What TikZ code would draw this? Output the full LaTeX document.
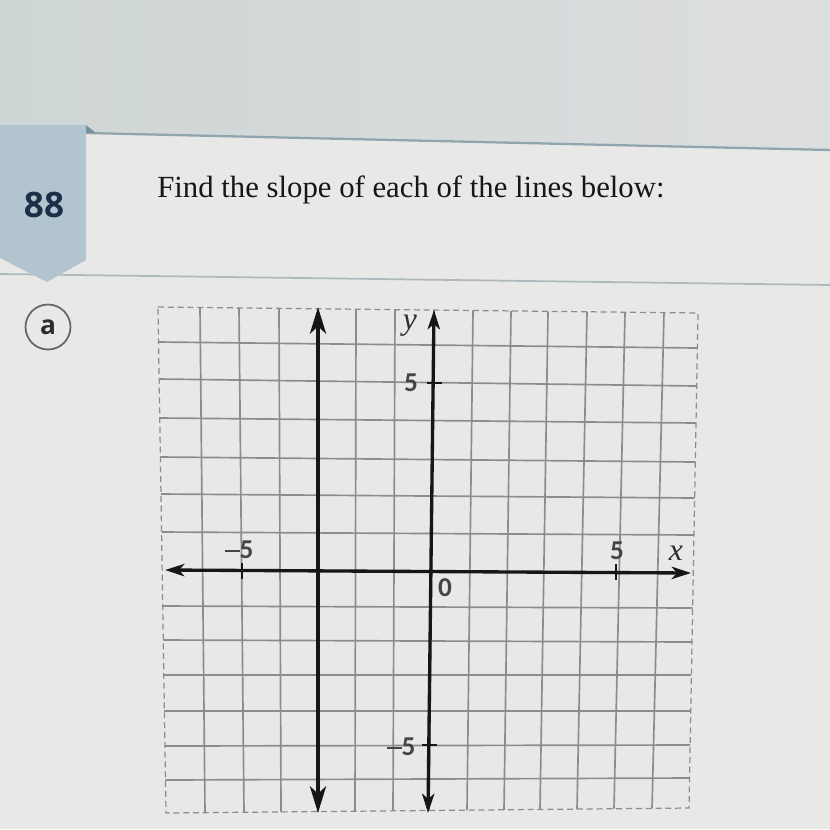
\documentclass[tikz,border=0pt]{standalone}
\usepackage{fontspec}
\setmainfont{Liberation Serif}
\newfontfamily\numfont{Carlito}
\newfontfamily\tabfont{Open Sans}
\usetikzlibrary{arrows.meta}
\definecolor{cardbg}{RGB}{232,233,231}
\definecolor{topL}{RGB}{206,214,213}
\definecolor{topR}{RGB}{221,222,224}
\definecolor{tabblue}{RGB}{178,197,207}
\definecolor{folddark}{RGB}{120,145,160}
\definecolor{sepcol}{RGB}{145,165,175}
\definecolor{sepcol2}{RGB}{175,185,188}
\definecolor{navy}{RGB}{25,48,72}
\definecolor{gridcol}{RGB}{140,140,140}
\definecolor{inkcol}{RGB}{22,22,22}
\begin{document}
\begin{tikzpicture}[x=0.02cm,y=-0.02cm,
  gridline/.style={draw=gridcol,line width=0.95pt},
  frameline/.style={draw=gridcol,line width=0.7pt,dash pattern=on 3.4pt off 2.2pt},
  heavyline/.style={draw=inkcol,line width=2.8pt,{Stealth[length=15pt,width=9pt,inset=4pt]}-{Stealth[length=15pt,width=9pt,inset=4pt]}},
  axisline/.style={draw=inkcol,line width=1.9pt,{Stealth[length=11pt,width=7pt,inset=3pt]}-{Stealth[length=11pt,width=7pt,inset=3pt]}},
  tickline/.style={draw=inkcol,line width=1.2pt},
  numlabel/.style={font=\numfont\bfseries\fontsize{15.5}{16}\selectfont,text=inkcol!80,inner sep=0pt},
  varlabel/.style={font=\itshape\fontsize{18}{19}\selectfont,text=inkcol!90,inner sep=0pt}]
\useasboundingbox (0,0) rectangle (830,829);
% backgrounds
\fill[cardbg] (0,0) rectangle (830,829);
\shade[left color=topL,right color=topR] (0,0) -- (830,0) -- (830,150) -- (86,133) -- (86,125) -- (0,125) -- cycle;
\draw[sepcol,line width=1.3pt] (86,133) -- (830,150);
\draw[sepcol2,line width=1pt] (0,274) -- (830,285);
% tab
\fill[tabblue] (0,125) -- (86,125) -- (86,260) -- (47,282) -- (0,258) -- cycle;
\fill[folddark] (86,125) -- (96,133) -- (86,133) -- cycle;
\node[font=\tabfont\bfseries\fontsize{20}{22}\selectfont,text=navy,inner sep=0pt] (num) at (44,205) {88};
\node[circle,draw=black!60,line width=1pt,minimum size=0.9cm,inner sep=0pt,
  font=\tabfont\bfseries\fontsize{15}{16}\selectfont,text=inkcol!90] (parta) at (48,327) {a};
% title
\node[anchor=base west,inner sep=0pt,font=\fontsize{17.5}{20}\selectfont,text=inkcol] (title) at (157,197) {Find the slope of each of the lines below:};
% grid: vertical lines (top x / bottom x)
\foreach \xt/\xb in {200/205,239/244,279/281,318/318,356/355,395/393,434/429,473/467,511/504,548/540,587/577,625/614,664/652}{
  \pgfmathsetmacro{\yt}{307+0.0111*(\xt-158)}
  \pgfmathsetmacro{\yb}{813-0.00956*(\xb-166)}
  \draw[gridline] (\xt,\yt) -- (\xb,\yb);
}
% grid: horizontal lines (left y / right y)
\foreach \yl/\yr in {342/348,379/386,418/423,457/462,494/498,532/535,606/608,640/642,675/675,711/711,746/745,780/778}{
  \pgfmathsetmacro{\xl}{158+0.0158*(\yl-307)}
  \pgfmathsetmacro{\xr}{698-0.0182*(\yr-313)}
  \draw[gridline] (\xl,\yl) -- (\xr,\yr);
}
% dashed frame
\coordinate (fTL) at (158,307);
\coordinate (fTR) at (698,313);
\coordinate (fBR) at (689,808);
\coordinate (fBL) at (166,813);
\draw[frameline] (fTL) -- (fTR) -- (fBR) -- (fBL) -- cycle;
% axes
\coordinate (xL) at (165,570);
\coordinate (xR) at (691,573);
\coordinate (yT) at (434,310);
\coordinate (yB) at (428,813);
\draw[axisline] (xL) -- (xR);
\draw[axisline] (yB) -- (yT);
% the vertical line x = -3
\coordinate (vT) at (318,307);
\coordinate (vB) at (318,813);
\draw[heavyline] (vB) -- (vT);
% ticks
\coordinate (tx1a) at (242,563); \coordinate (tx1b) at (242,579);
\coordinate (tx2a) at (616,564); \coordinate (tx2b) at (616,580);
\coordinate (ty1a) at (427,383); \coordinate (ty1b) at (442,383);
\coordinate (ty2a) at (422,745); \coordinate (ty2b) at (437,745);
\draw[tickline] (tx1a) -- (tx1b);
\draw[tickline] (tx2a) -- (tx2b);
\draw[tickline] (ty1a) -- (ty1b);
\draw[tickline] (ty2a) -- (ty2b);
% labels
\node[numlabel] (lxm5) at (239,550) {\rule[0.23em]{0.55em}{0.09em}5};
\node[numlabel] (lx5) at (617,551) {5};
\node[varlabel] (lx) at (676,553) {x};
\node[varlabel] (ly) at (410,326) {y};
\node[numlabel] (ly5) at (411,383) {5};
\node[numlabel] (lym5) at (401,747) {\rule[0.23em]{0.55em}{0.09em}5};
\node[numlabel] (l0) at (445,588) {0};
\end{tikzpicture}
\end{document}
